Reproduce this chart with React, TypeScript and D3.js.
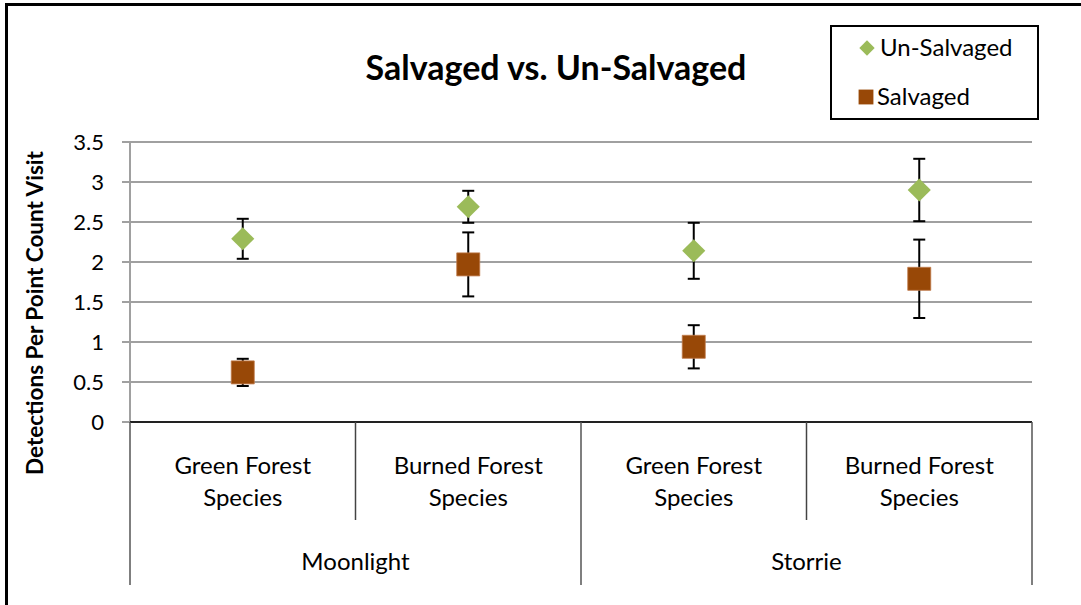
import * as d3 from "d3";

const groups = ["Moonlight", "Storrie"];
const speciesLines = [
  ["Green Forest", "Species"],
  ["Burned Forest", "Species"],
];
const categories = ["Moonlight-Green", "Moonlight-Burned", "Storrie-Green", "Storrie-Burned"];
const unSalvaged = [2.29, 2.69, 2.14, 2.9];
const unSalvagedErr = [0.25, 0.2, 0.35, 0.39];
const salvaged = [0.62, 1.97, 0.94, 1.79];
const salvagedErr = [0.17, 0.4, 0.27, 0.49];
const yTicks = [0, 0.5, 1, 1.5, 2, 2.5, 3, 3.5];

const font = "Lato, 'Open Sans', sans-serif";
const green = "#9bbb59";
const brown = "#984807";

export default function App() {
  const width = 1081;
  const height = 605;
  const left = 130;
  const right = 1032;
  const top = 142;
  const bottom = 422;

  const x = d3.scaleBand<string>().domain(categories).range([left, right]).padding(0);
  const y = d3.scaleLinear().domain([0, 3.5]).range([bottom, top]);
  const groupX = d3.scaleBand<string>().domain(groups).range([left, right]);
  const cx = (i: number) => (x(categories[i]) ?? 0) + x.bandwidth() / 2;

  const diamond = d3.symbol().type(d3.symbolDiamond2).size(340)();
  const square = d3.symbol().type(d3.symbolSquare).size(530)();

  const errorBar = (i: number, v: number, e: number, key: string) => (
    <g key={key} stroke="#000" strokeWidth={2}>
      <line x1={cx(i)} x2={cx(i)} y1={y(v + e)} y2={y(v - e)} />
      <line x1={cx(i) - 6} x2={cx(i) + 6} y1={y(v + e)} y2={y(v + e)} />
      <line x1={cx(i) - 6} x2={cx(i) + 6} y1={y(v - e)} y2={y(v - e)} />
    </g>
  );

  // group boundaries (long) and in-group separators (short)
  const longX = [left, ...groups.map((g) => (groupX(g) ?? 0) + groupX.bandwidth())];
  const shortX = categories.filter((_, i) => i % 2 === 0).map((c) => (x(c) ?? 0) + x.bandwidth());

  return (
    <svg
      width={width}
      height={height}
      style={{ position: "absolute", left: 0, top: 0, background: "#fff" }}
      fontFamily={font}
    >
      <rect x={6.5} y={4.5} width={width + 10} height={height + 10} fill="#fff" stroke="#000" strokeWidth={3} />

      <text x={556} y={80} textAnchor="middle" fontSize={34} fontWeight="bold">
        Salvaged vs. Un-Salvaged
      </text>

      {/* gridlines */}
      {yTicks.map((t) => (
        <g key={t}>
          {t > 0 && <line x1={left} x2={right} y1={y(t)} y2={y(t)} stroke="#a0a0a0" strokeWidth={2} />}
          <line x1={left - 8} x2={left} y1={y(t)} y2={y(t)} stroke="#a0a0a0" strokeWidth={2} />
          <text x={104} y={y(t) + 8} textAnchor="end" fontSize={22}>
            {t}
          </text>
        </g>
      ))}
      <line x1={left} x2={left} y1={top} y2={bottom} stroke="#a0a0a0" strokeWidth={2} />

      {/* category axis */}
      <line x1={left} x2={right} y1={bottom} y2={bottom} stroke="#222" strokeWidth={2} />
      {shortX.map((sx) => (
        <line key={"s" + sx} x1={sx} x2={sx} y1={bottom} y2={520} stroke="#444" strokeWidth={1.5} />
      ))}
      {longX.map((lx) => (
        <line key={"l" + lx} x1={lx} x2={lx} y1={bottom} y2={585} stroke="#555" strokeWidth={1.5} />
      ))}
      {categories.map((c, i) => (
        <text key={c + "-lbl"} x={cx(i)} textAnchor="middle" fontSize={24}>
          <tspan x={cx(i)} y={474}>{speciesLines[i % 2][0]}</tspan>
          <tspan x={cx(i)} y={506}>{speciesLines[i % 2][1]}</tspan>
        </text>
      ))}
      {groups.map((g) => (
        <text key={g} x={(groupX(g) ?? 0) + groupX.bandwidth() / 2} y={570} textAnchor="middle" fontSize={24}>
          {g}
        </text>
      ))}

      <text
        transform={`translate(43, 313) rotate(-90)`}
        textAnchor="middle"
        fontSize={22.5}
        fontWeight="bold"
      >
        Detections Per Point Count Visit
      </text>

      {/* error bars then markers */}
      {unSalvaged.map((v, i) => errorBar(i, v, unSalvagedErr[i], "ue" + i))}
      {salvaged.map((v, i) => errorBar(i, v, salvagedErr[i], "se" + i))}
      {unSalvaged.map((v, i) => (
        <path key={"u" + i} d={diamond ?? ""} transform={`translate(${cx(i)},${y(v)})`} fill={green} />
      ))}
      {salvaged.map((v, i) => (
        <path key={"s" + i} d={square ?? ""} transform={`translate(${cx(i)},${y(v)})`} fill={brown} stroke="#c07a4a" strokeWidth={0.8} />
      ))}

      {/* legend */}
      <rect x={831} y={26} width={207} height={93} fill="#fff" stroke="#000" strokeWidth={2} />
      <path d={d3.symbol().type(d3.symbolDiamond2).size(150)() ?? ""} transform="translate(867,48)" fill={green} />
      <text x={880} y={56} fontSize={24}>Un-Salvaged</text>
      <path d={d3.symbol().type(d3.symbolSquare).size(220)() ?? ""} transform="translate(866,97)" fill={brown} />
      <text x={877} y={105} fontSize={24}>Salvaged</text>
    </svg>
  );
}
